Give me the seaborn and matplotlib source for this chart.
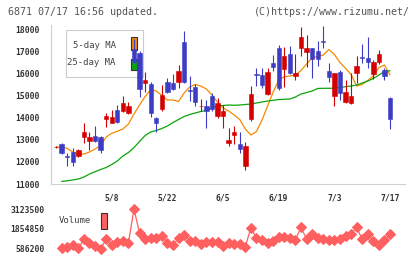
import numpy as np
import pandas as pd
import matplotlib
matplotlib.use("Agg")
import matplotlib.pyplot as plt
import seaborn as sns
from matplotlib.patches import Rectangle

# ---------------- data ----------------
date_labels = ["5/8", "5/22", "6/5", "6/19", "7/3", "7/17"]
date_label_idx = [10, 20, 30, 40, 50, 60]

opens = [12660, 12820, 12250, 12459, 12265, 13109, 12929, 13155, 13137, 13950,
         13769, 14343, 14311, 14194, 17084, 16904, 15576, 15504, 13995, 14401,
         15621, 15549, 15621, 17414, 15246, 15368, 14510, 14523, 14975, 14085,
         14072, 12866, 13213, 12820, 11827, 13936, 15969, 15924, 15065, 16479,
         17157, 16194, 16886, 15878, 17157, 16976, 17130, 17008, 17441, 16104,
         14975, 16073, 14704, 14672, 16028, 16719, 16705, 15969, 16506, 16149,
         14871]
highs = [12700, 12852, 12387, 12640, 12595, 13769, 13349, 13620, 13182, 14221,
         14343, 14555, 14975, 14704, 17550, 17008, 16073, 15607, 14040, 15472,
         15802, 15969, 16375, 17911, 15878, 15517, 14826, 14794, 15124, 14871,
         14568, 13543, 13620, 13362, 12911, 15427, 16253, 16226, 16226, 16827,
         17279, 17175, 17233, 16872, 18078, 17730, 17130, 17459, 18150, 16479,
         16000, 16149, 15698, 16028, 16782, 17324, 17627, 16601, 17053, 16253,
         14916]
lows = [12640, 12369, 11827, 11827, 12206, 12866, 12536, 12897, 12414, 13588,
        13742, 13742, 14252, 14162, 16466, 14943, 15169, 14040, 13335, 14311,
        15124, 15246, 15350, 15549, 14749, 14523, 14297, 13543, 14311, 13995,
        13543, 12730, 12807, 12414, 11632, 13859, 15440, 15350, 15020, 16104,
        15246, 15395, 15969, 15698, 16795, 16298, 15802, 16330, 17157, 15621,
        14523, 14794, 14645, 14614, 15549, 16479, 16226, 15729, 16407, 15698,
        13471]
closes = [12690, 12414, 12220, 12007, 12536, 13349, 13109, 12929, 12536, 14072,
          14013, 13801, 14645, 14523, 16524, 15278, 15698, 14194, 13769, 15020,
          15169, 15305, 16118, 15621, 15219, 14718, 14537, 14311, 14374, 14645,
          14311, 12987, 13362, 12595, 12716, 15065, 15942, 15472, 16073, 16298,
          15350, 16782, 16000, 16028, 17627, 17130, 16633, 16633, 17414, 15820,
          16000, 15124, 15156, 14975, 16330, 16692, 16524, 16524, 16872, 15878,
          13936]

ma5 = [12671, 12671, 12608, 12445, 12355, 12355, 12445, 12581, 12739, 13123,
       13290, 13381, 13484, 13710, 14162, 14568, 14952, 15269, 15201, 14998,
       14794, 14794, 14727, 15111, 15382, 15495, 15427, 15291, 15020, 14704,
       14433, 14297, 14117, 13913, 13484, 13213, 13371, 13891, 14523, 15156,
       15698, 15847, 15878, 15924, 16127, 16420, 16692, 16769, 16827, 17076,
       16850, 16488, 16226, 15946, 15427, 15495, 15676, 15878, 16262, 16375,
       15924]
ma25 = [np.nan, 11117, 11145, 11181, 11226, 11316, 11452, 11556, 11655, 11745,
        11881, 12039, 12265, 12423, 12649, 12920, 13191, 13349, 13417, 13507,
        13620, 13778, 13913, 14049, 14139, 14207, 14275, 14320, 14433, 14523,
        14546, 14568, 14555, 14568, 14591, 14614, 14659, 14704, 14749, 14780,
        14817, 14826, 14839, 14930, 15065, 15133, 15201, 15314, 15323, 15323,
        15328, 15359, 15395, 15427, 15472, 15562, 15652, 15765, 15924, 16082,
        16118]
volume = [np.nan, 612000, 714000, 823000, 612000, 1187000, 931000, 759000, 586200, 1187000,
          804000, 995000, 1098000, 970000, 3123500, 1570000, 1206000, 1251000, 1289000, 1417000,
          931000, 823000, 1251000, 1462000, 1098000, 1098000, 867000, 1034000, 995000, 995000,
          778000, 931000, 887000, 867000, 714000, 1928000, 1251000, 1142000, 931000, 1078000,
          1315000, 1315000, 1251000, 1142000, 1954000, 1206000, 1507000, 1251000, 1187000, 1142000,
          1142000, 1206000, 1417000, 1507000, 1954000, 1187000, 1526000, 1078000, 823000, 1142000,
          1507000]
price_ticks = [11000, 12000, 13000, 14000, 15000, 16000, 17000, 18000]
volume_ticks = [586200, 1854850, 3123500]

title_left = "6871 07/17 16:56 updated."
title_right = "(C)https://www.rizumu.net/"

# ---------------- style ----------------
sns.set_theme(style="white")
plt.rcParams["font.family"] = ["DejaVu Sans Mono", "DejaVu Sans"]

RED = "#d40000"
BLUE = "#3c3cc4"
ORANGE = "#f58a00"
GREEN = "#0aa50a"
VOLC = "#ff5f5f"
AXC = "#d0d0d0"
TXT = "#333333"

df = pd.DataFrame({"i": np.arange(len(opens)), "open": opens, "high": highs,
                   "low": lows, "close": closes, "ma5": ma5, "ma25": ma25,
                   "volume": volume})

W, H = 420, 259
fig = plt.figure(figsize=(W / 100, H / 100), dpi=100)
fig.patch.set_facecolor("white")


def rect(x0, y0, x1, y1):
    return [x0 / W, 1 - y1 / H, (x1 - x0) / W, (y1 - y0) / H]


def fx(x):
    return x / W


def fy(y):
    return 1 - y / H


XMIN, XMAX = -0.97, 62.74
ax = fig.add_axes(rect(50.7, 25, 405.3, 184))
axv = fig.add_axes(rect(50.7, 200, 405.3, 255))
axv.patch.set_visible(False)

# ---------------- candles ----------------
up = df["close"] >= df["open"]
cols = np.where(up, RED, BLUE)
ax.vlines(df["i"], df["low"], df["high"], colors=cols, lw=0.8, zorder=3)
body_lo = np.minimum(df["open"], df["close"])
body_h = np.maximum(np.abs(df["close"] - df["open"]), 20)
ax.bar(df["i"], body_h, bottom=body_lo, width=0.78, color=cols,
       edgecolor=cols, linewidth=0.4, zorder=4)

# moving averages
sns.lineplot(data=df, x="i", y="ma5", ax=ax, color=ORANGE, lw=0.9, zorder=2)
sns.lineplot(data=df, x="i", y="ma25", ax=ax, color=GREEN, lw=0.9, zorder=2)

ax.set_xlim(XMIN, XMAX)
ax.set_ylim(11000, 18182)
ax.set_xlabel("")
ax.set_ylabel("")
for s in ["top", "right"]:
    ax.spines[s].set_visible(False)
for s in ["left", "bottom"]:
    ax.spines[s].set_color(AXC)
    ax.spines[s].set_linewidth(0.8)
ax.set_yticks(price_ticks)
ax.set_yticklabels([str(v) for v in price_ticks])
ax.set_xticks(np.linspace(XMIN, XMAX, 12))
ax.set_xticklabels([])
ax.set_xticks(date_label_idx, minor=True)
ax.set_xticklabels(date_labels, minor=True)
ax.tick_params(axis="both", which="major", direction="inout", length=6,
               width=0.8, color=AXC)
ax.tick_params(axis="y", which="major", pad=5.0, labelsize=5.8, labelcolor=TXT)
ax.tick_params(axis="x", which="minor", length=0, pad=6.8, labelsize=5.8,
               labelcolor=TXT)
for t in ax.get_yticklabels() + ax.get_xticklabels(minor=True):
    t.set_fontweight("bold")
ax.grid(False)

# legend (drawn under the candles)
ax.add_artist(Rectangle((fx(65.7), fy(77.3)), (143.3 - 65.7) / W, (77.3 - 30) / H,
                        transform=fig.transFigure, facecolor="white",
                        edgecolor="#cccccc", lw=0.8, zorder=1, clip_on=False))
ax.text(fx(115.5), fy(45.5), "5-day MA", transform=fig.transFigure, ha="right",
        va="center", fontsize=6.5, color="#444444", zorder=1)
ax.text(fx(115.5), fy(62.5), "25-day MA", transform=fig.transFigure, ha="right",
        va="center", fontsize=6.5, color="#444444", zorder=1)
ax.add_artist(Rectangle((fx(131.2), fy(49.8)), 6 / W, 12.5 / H,
                        transform=fig.transFigure, facecolor=ORANGE,
                        edgecolor="#333333", lw=0.8, zorder=1, clip_on=False))
ax.add_artist(Rectangle((fx(131.2), fy(70.3)), 6 / W, 11 / H,
                        transform=fig.transFigure, facecolor=GREEN,
                        edgecolor="#333333", lw=0.8, zorder=1, clip_on=False))

# ---------------- volume ----------------
sns.lineplot(data=df, x="i", y="volume", ax=axv, color=VOLC, lw=0.9,
             marker="D", markersize=4.6, markeredgecolor=VOLC, zorder=3)
axv.set_xlim(XMIN, XMAX)
axv.set_ylim(183554, 3698714)
axv.set_xlabel("")
axv.set_ylabel("")
for s in axv.spines.values():
    s.set_visible(False)
axv.set_xticks([])
axv.set_yticks(volume_ticks)
axv.set_yticklabels([str(v) for v in volume_ticks])
axv.tick_params(axis="y", length=0, pad=4.6, labelsize=5.8, labelcolor=TXT)
for t in axv.get_yticklabels():
    t.set_fontweight("bold")
axv.grid(False)

fig.text(fx(59), fy(220.8), "Volume", ha="left", va="center", fontsize=6.5,
         color="#444444")
fig.patches.append(Rectangle((fx(101.3), fy(228.7)), 6 / W, 15.4 / H,
                             transform=fig.transFigure, facecolor=VOLC,
                             edgecolor="#333333", lw=0.8))

# ---------------- titles ----------------
fig.text(fx(8.3), fy(12.2), title_left, ha="left", va="center", fontsize=7.2,
         color="#555555")
fig.text(fx(410), fy(12.2), title_right, ha="right", va="center", fontsize=7.2,
         color="#555555")

fig.savefig("out.png", dpi=100, facecolor="white")
